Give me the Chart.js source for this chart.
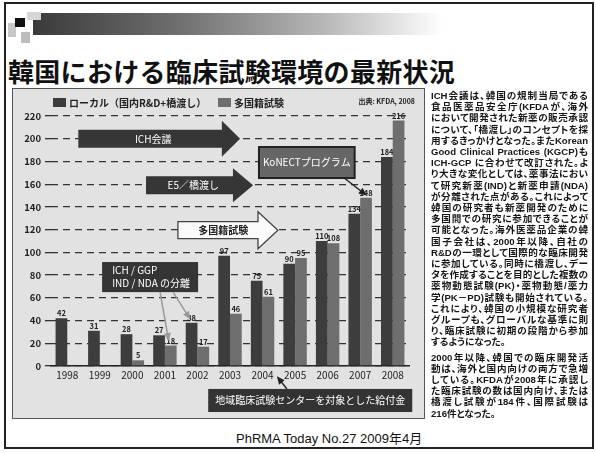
<!DOCTYPE html>
<html>
<head>
<meta charset="utf-8">
<script src="https://cdn.jsdelivr.net/npm/chart.js@4.4.1/dist/chart.umd.min.js"></script>
<style>
  body { margin: 0; width: 596px; height: 453px; background: #fff; position: relative; overflow: hidden;
         font-family: "Noto Sans CJK JP", "Noto Sans", sans-serif; color: #111; }
  .frame { position: absolute; left: 4px; top: 2px; width: 586px; height: 443px; border: 2px solid #222; }
  .band { position: absolute; left: 33px; top: 13px; width: 410px; height: 22px;
          background: linear-gradient(to right, #3a3a3a 0%, #6e6e6e 35%, #b5b5b5 70%, #fff 100%); }
  .sq { position: absolute; }
  .title { position: absolute; left: 8px; top: 52px; font-size: 26px; font-weight: bold; white-space: nowrap; letter-spacing: 0.3px; }
  .box { position: absolute; left: 13px; top: 89px; width: 411px; height: 329px; background: #e2e2e2;
         outline: 1px solid #555; }
  .note { position: absolute; left: 431px; top: 90px; width: 157px; font-family: "Liberation Sans", "Noto Sans CJK JP", sans-serif;
          font-size: 9.6px; line-height: 11.2px; font-weight: bold; color: #161616;
          font-feature-settings: "palt"; }
  .note div { white-space: nowrap; text-align: justify; text-align-last: justify; }
  .note div.end { text-align-last: left; }
  .note .gap { height: 4px; }
  .src { position: absolute; left: 236px; top: 428px; font-family: "Liberation Sans", "Noto Sans CJK JP", sans-serif;
         font-size: 13px; white-space: nowrap; color: #111; }
</style>
</head>
<body>
<div class="frame"></div>
<div class="band"></div>
<div class="sq" style="left:8px;top:23px;width:8px;height:14px;background:#c8c8c8"></div>
<div class="sq" style="left:15px;top:18px;width:10px;height:9px;background:#111"></div>
<div class="sq" style="left:21px;top:32px;width:9px;height:11px;background:#bdbdbd"></div>
<div class="sq" style="left:27px;top:12px;width:14px;height:8px;background:#d6d6d6"></div>
<div class="title">韓国における臨床試験環境の最新状況</div>

<div class="box"><canvas id="trialChart" width="411" height="329"></canvas></div>

<div class="note">
<div>ICH会議は、韓国の規制当局である</div>
<div>食品医薬品安全庁(KFDAが、海外</div>
<div>において開発された新薬の販売承認</div>
<div>について、「橋渡し」のコンセプトを採</div>
<div>用するきっかけとなった。またKorean</div>
<div>Good Clinical Practices (KGCP)も</div>
<div>ICH-GCP に合わせて改訂された。よ</div>
<div>り大きな変化としては、薬事法におい</div>
<div>て研究新薬(IND)と新薬申請(NDA)</div>
<div>が分離された点がある。これによって</div>
<div>韓国の研究者も新薬開発のために</div>
<div>多国間での研究に参加できることが</div>
<div>可能となった。海外医薬品企業の韓</div>
<div>国子会社は、2000年以降、自社の</div>
<div>R&amp;Dの一環として国際的な臨床開発</div>
<div>に参加している。同時に橋渡し、デー</div>
<div>タを作成することを目的とした複数の</div>
<div>薬物動態試験(PK)・薬物動態/薬力</div>
<div>学(PK－PD)試験も開始されている。</div>
<div>これにより、韓国の小規模な研究者</div>
<div>グループも、グローバルな基準に則</div>
<div>り、臨床試験に初期の段階から参加</div>
<div class="end">するようになった。</div>
<div class="gap"></div>
<div>2000年以降、韓国での臨床開発活</div>
<div>動は、海外と国内向けの両方で急増</div>
<div>している。KFDAが2008年に承認し</div>
<div>た臨床試験の数は国内向け、または</div>
<div>橋渡し試験が184件、国際試験は</div>
<div class="end">216件となった。</div>
</div>

<div class="src">PhRMA Today No.27 2009年4月</div>

<script>
// 承認された臨床試験の件数 (KFDA)
const years = ['1998', '1999', '2000', '2001', '2002', '2003', '2004', '2005', '2006', '2007', '2008'];
const localTrials = [42, 31, 28, 27, 38, 97, 75, 90, 110, 134, 184];
const multiTrials = [null, null, 5, 18, 17, 46, 61, 95, 108, 148, 216];
const seriesNames = ['ローカル（国内R&D+橋渡し）', '多国籍試験'];
const yMax = 220;
const yStep = 20;

const FONT = '"Noto Sans CJK JP", "Noto Sans", sans-serif';

function blockArrow(ctx, x0, xh, xt, yc, bh, hh, fill, stroke) {
  ctx.beginPath();
  ctx.moveTo(x0, yc - bh);
  ctx.lineTo(xh, yc - bh);
  ctx.lineTo(xh, yc - hh);
  ctx.lineTo(xt, yc);
  ctx.lineTo(xh, yc + hh);
  ctx.lineTo(xh, yc + bh);
  ctx.lineTo(x0, yc + bh);
  ctx.closePath();
  ctx.fillStyle = fill;
  ctx.fill();
  if (stroke) {
    ctx.strokeStyle = stroke;
    ctx.lineWidth = 1.3;
    ctx.stroke();
  }
}

function pointer(ctx, x1, y1, x2, y2, color, w) {
  const a = Math.atan2(y2 - y1, x2 - x1);
  ctx.strokeStyle = color;
  ctx.fillStyle = color;
  ctx.lineWidth = w;
  ctx.beginPath();
  ctx.moveTo(x1, y1);
  ctx.lineTo(x2 - 5 * Math.cos(a), y2 - 5 * Math.sin(a));
  ctx.stroke();
  ctx.beginPath();
  ctx.moveTo(x2, y2);
  ctx.lineTo(x2 - 8 * Math.cos(a) + 3.5 * Math.sin(a), y2 - 8 * Math.sin(a) - 3.5 * Math.cos(a));
  ctx.lineTo(x2 - 8 * Math.cos(a) - 3.5 * Math.sin(a), y2 - 8 * Math.sin(a) + 3.5 * Math.cos(a));
  ctx.closePath();
  ctx.fill();
}

// 凡例と出典
const legendPlugin = {
  id: 'legendPlugin',
  afterDraw(chart) {
    const ctx = chart.ctx;
    const ds = chart.data.datasets;
    const pos = [40, 205];
    ctx.save();
    ctx.textBaseline = 'middle';
    ds.forEach((d, k) => {
      ctx.fillStyle = d.backgroundColor;
      ctx.fillRect(pos[k], 9, 13, 9);
      ctx.fillStyle = '#222';
      ctx.font = 'bold 10px ' + FONT;
      ctx.textAlign = 'left';
      ctx.fillText(d.label, pos[k] + 16, 14);
    });
    ctx.font = 'bold 7px ' + FONT;
    ctx.textAlign = 'right';
    ctx.fillText('出典: KFDA, 2008', 402, 12);
    ctx.restore();
  }
};

// 棒の上の件数
const valuePlugin = {
  id: 'valuePlugin',
  afterDatasetsDraw(chart) {
    const ctx = chart.ctx;
    ctx.save();
    ctx.font = 'bold 7.5px ' + FONT;
    ctx.fillStyle = '#222';
    ctx.textAlign = 'center';
    ctx.textBaseline = 'bottom';
    chart.data.datasets.forEach((d, k) => {
      chart.getDatasetMeta(k).data.forEach((bar, i) => {
        if (d.data[i] == null) return;
        ctx.fillText(String(d.data[i]), bar.x, bar.y - 1);
      });
    });
    ctx.restore();
  }
};

// 制度の変遷を示す矢印と注記
const notesPlugin = {
  id: 'notesPlugin',
  afterDatasetsDraw(chart) {
    const ctx = chart.ctx;
    const xs = chart.scales.x, ys = chart.scales.y;
    const step = xs.getPixelForValue(1) - xs.getPixelForValue(0);
    const px = i => xs.getPixelForValue(0) + i * step;
    const py = v => ys.getPixelForValue(v);
    ctx.save();
    ctx.textBaseline = 'middle';
    ctx.textAlign = 'center';

    blockArrow(ctx, px(0.34), px(4.75), px(5.31), py(200), 9, 18, '#363636');
    ctx.fillStyle = '#fff';
    ctx.font = '10px ' + FONT;
    ctx.fillText('ICH会議', px(2.64), py(200));

    blockArrow(ctx, px(2.42), px(5.09), px(5.71), py(159), 9, 17, '#363636');
    ctx.fillStyle = '#fff';
    ctx.fillText('E5／橋渡し', px(3.87), py(159));

    blockArrow(ctx, px(3.4), px(5.86), px(6.47), py(119.5), 8.5, 18.5, '#fafafa', '#444');
    ctx.fillStyle = '#222';
    ctx.font = 'bold 10px ' + FONT;
    ctx.fillText('多国籍試験', px(4.79), py(119.5));

    // KoNECT
    let x1 = px(5.89), x2 = px(8.83), y1 = py(192.7), y2 = py(165.4);
    ctx.fillStyle = '#666';
    ctx.fillRect(x1, y1, x2 - x1, y2 - y1);
    ctx.strokeStyle = '#222';
    ctx.lineWidth = 2;
    ctx.strokeRect(x1, y1, x2 - x1, y2 - y1);
    ctx.fillStyle = '#fff';
    ctx.font = '10px ' + FONT;
    ctx.fillText('KoNECTプログラム', (x1 + x2) / 2, (y1 + y2) / 2);
    pointer(ctx, px(8.53), py(165), px(9.2), py(150), '#222', 1.5);

    // ICH / GGP
    x1 = px(1.07); x2 = px(4.02); y1 = py(91.5); y2 = py(65);
    ctx.fillStyle = '#353535';
    ctx.fillRect(x1, y1, x2 - x1, y2 - y1);
    ctx.fillStyle = '#fff';
    ctx.textAlign = 'left';
    ctx.fillText('ICH / GGP', px(1.38), py(84.5));
    ctx.fillText('IND / NDA の分離', px(1.38), py(73));
    pointer(ctx, px(2.85), py(65), px(3.12), py(22), '#9a9a9a', 1.5);
    pointer(ctx, px(3.25), py(65), px(3.78), py(41), '#9a9a9a', 1.5);

    // 地域臨床試験センター
    x1 = px(4.33); x2 = px(10.6); y1 = py(-20.2); y2 = py(-40.5);
    ctx.fillStyle = '#333';
    ctx.fillRect(x1, y1, x2 - x1, y2 - y1);
    ctx.fillStyle = '#fff';
    ctx.textAlign = 'center';
    ctx.fillText('地域臨床試験センターを対象とした給付金', (x1 + x2) / 2, (y1 + y2) / 2);
    pointer(ctx, px(6.75), py(-20.2), px(6.44), py(-9), '#222', 1.5);

    ctx.restore();
  }
};

new Chart(document.getElementById('trialChart'), {
  type: 'bar',
  data: {
    labels: years,
    datasets: [
      { label: seriesNames[0], data: localTrials, backgroundColor: '#3d3d3d' },
      { label: seriesNames[1], data: multiTrials, backgroundColor: '#6e6e6e' }
    ]
  },
  options: {
    responsive: false,
    animation: false,
    layout: { padding: { top: 27, right: 15, bottom: 30, left: 0 } },
    datasets: { bar: { categoryPercentage: 0.72, barPercentage: 1.0 } },
    plugins: { legend: { display: false }, tooltip: { enabled: false } },
    scales: {
      x: {
        grid: { display: false, drawTicks: false },
        border: { color: '#222', width: 1.5 },
        ticks: { color: '#222', font: { size: 10, family: FONT }, padding: 3 },
        afterFit: s => { s.height = 22; }
      },
      y: {
        min: 0,
        max: yMax,
        ticks: { stepSize: yStep, color: '#222', font: { size: 9.5, weight: 'bold', family: FONT }, padding: 4 },
        grid: { color: '#333', lineWidth: 1.3, tickLength: 6, tickBorderDash: [7, 5] },
        border: { display: false, dash: [7, 5] },
        afterFit: s => { s.width = 38; }
      }
    }
  },
  plugins: [legendPlugin, valuePlugin, notesPlugin]
});
</script>
</body>
</html>
